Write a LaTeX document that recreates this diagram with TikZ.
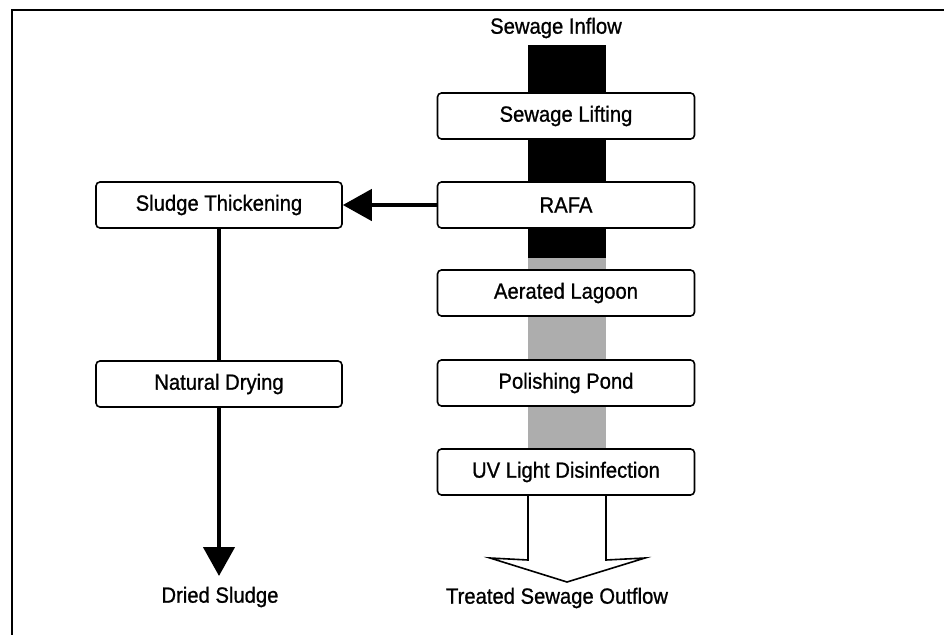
\documentclass[tikz,border=0pt]{standalone}
\usepackage{fontspec}
\setmainfont[FakeStretch=0.92,FakeBold=0.9]{Liberation Sans}
\usetikzlibrary{arrows.meta}

\tikzset{
  stage/.style={draw, line width=1.6pt, rounded corners=4pt, fill=white,
    minimum width=257pt, minimum height=46pt, inner sep=0pt,
    font=\fontsize{22}{24}\selectfont},
  sludgestage/.style={stage, minimum width=246pt},
  caption/.style={inner sep=0pt, font=\fontsize{22}{24}\selectfont},
  sludgeline/.style={line width=4.5pt},
  sludgehead/.style={sludgeline, -{Triangle[length=29pt,width=31pt]}},
  rawflow/.style={fill=black},
  partflow/.style={fill=black!32},
}

\begin{document}
\begin{tikzpicture}[x=1pt,y=-1pt]
\useasboundingbox (0,0) rectangle (944,635);

% outer frame (top and left edges)
\draw[line width=1.8pt] (944,10) -- (12,10) -- (12,635);

% flow band behind the treatment train
\coordinate (bandtop) at (528,45);
\coordinate (rawend) at (606,258);
\coordinate (partstart) at (528,258);
\coordinate (partend) at (606,452);
\fill[rawflow] (bandtop) rectangle (rawend);
\fill[partflow] (partstart) rectangle (partend);

% treatment train
\node[caption] (inflow) at (556,28) {Sewage Inflow};
\node[stage] (lift)   at (566,116) {Sewage Lifting};
\node[stage] (rafa)   at (566,205) {RAFA};
\node[stage] (lagoon) at (566,293) {Aerated Lagoon};
\node[stage] (pond)   at (566,383) {Polishing Pond};
\node[stage] (uv)     at (566,472) {UV Light Disinfection};
\node[caption] (outflow) at (557,598) {Treated Sewage Outflow};

% hollow outflow arrow
\coordinate (tip) at (567,582);
\draw[line width=1.6pt, line join=miter]
  (uv.south -| 528,0) -- (528,560) -- (490,558) -- (tip)
  -- (645,558) -- (606,560) -- (uv.south -| 606,0);

% sludge line
\node[sludgestage] (thick) at (219,205) {Sludge Thickening};
\node[sludgestage] (dry)   at (219,384) {Natural Drying};
\node[caption] (dried) at (220,597) {Dried Sludge};
\coordinate (sludgeend) at (219,576);

\draw[sludgehead] (rafa.west) -- (thick.east);
\draw[sludgeline] (thick.south) -- (dry.north);
\draw[sludgehead] (dry.south) -- (sludgeend);
\end{tikzpicture}
\end{document}
